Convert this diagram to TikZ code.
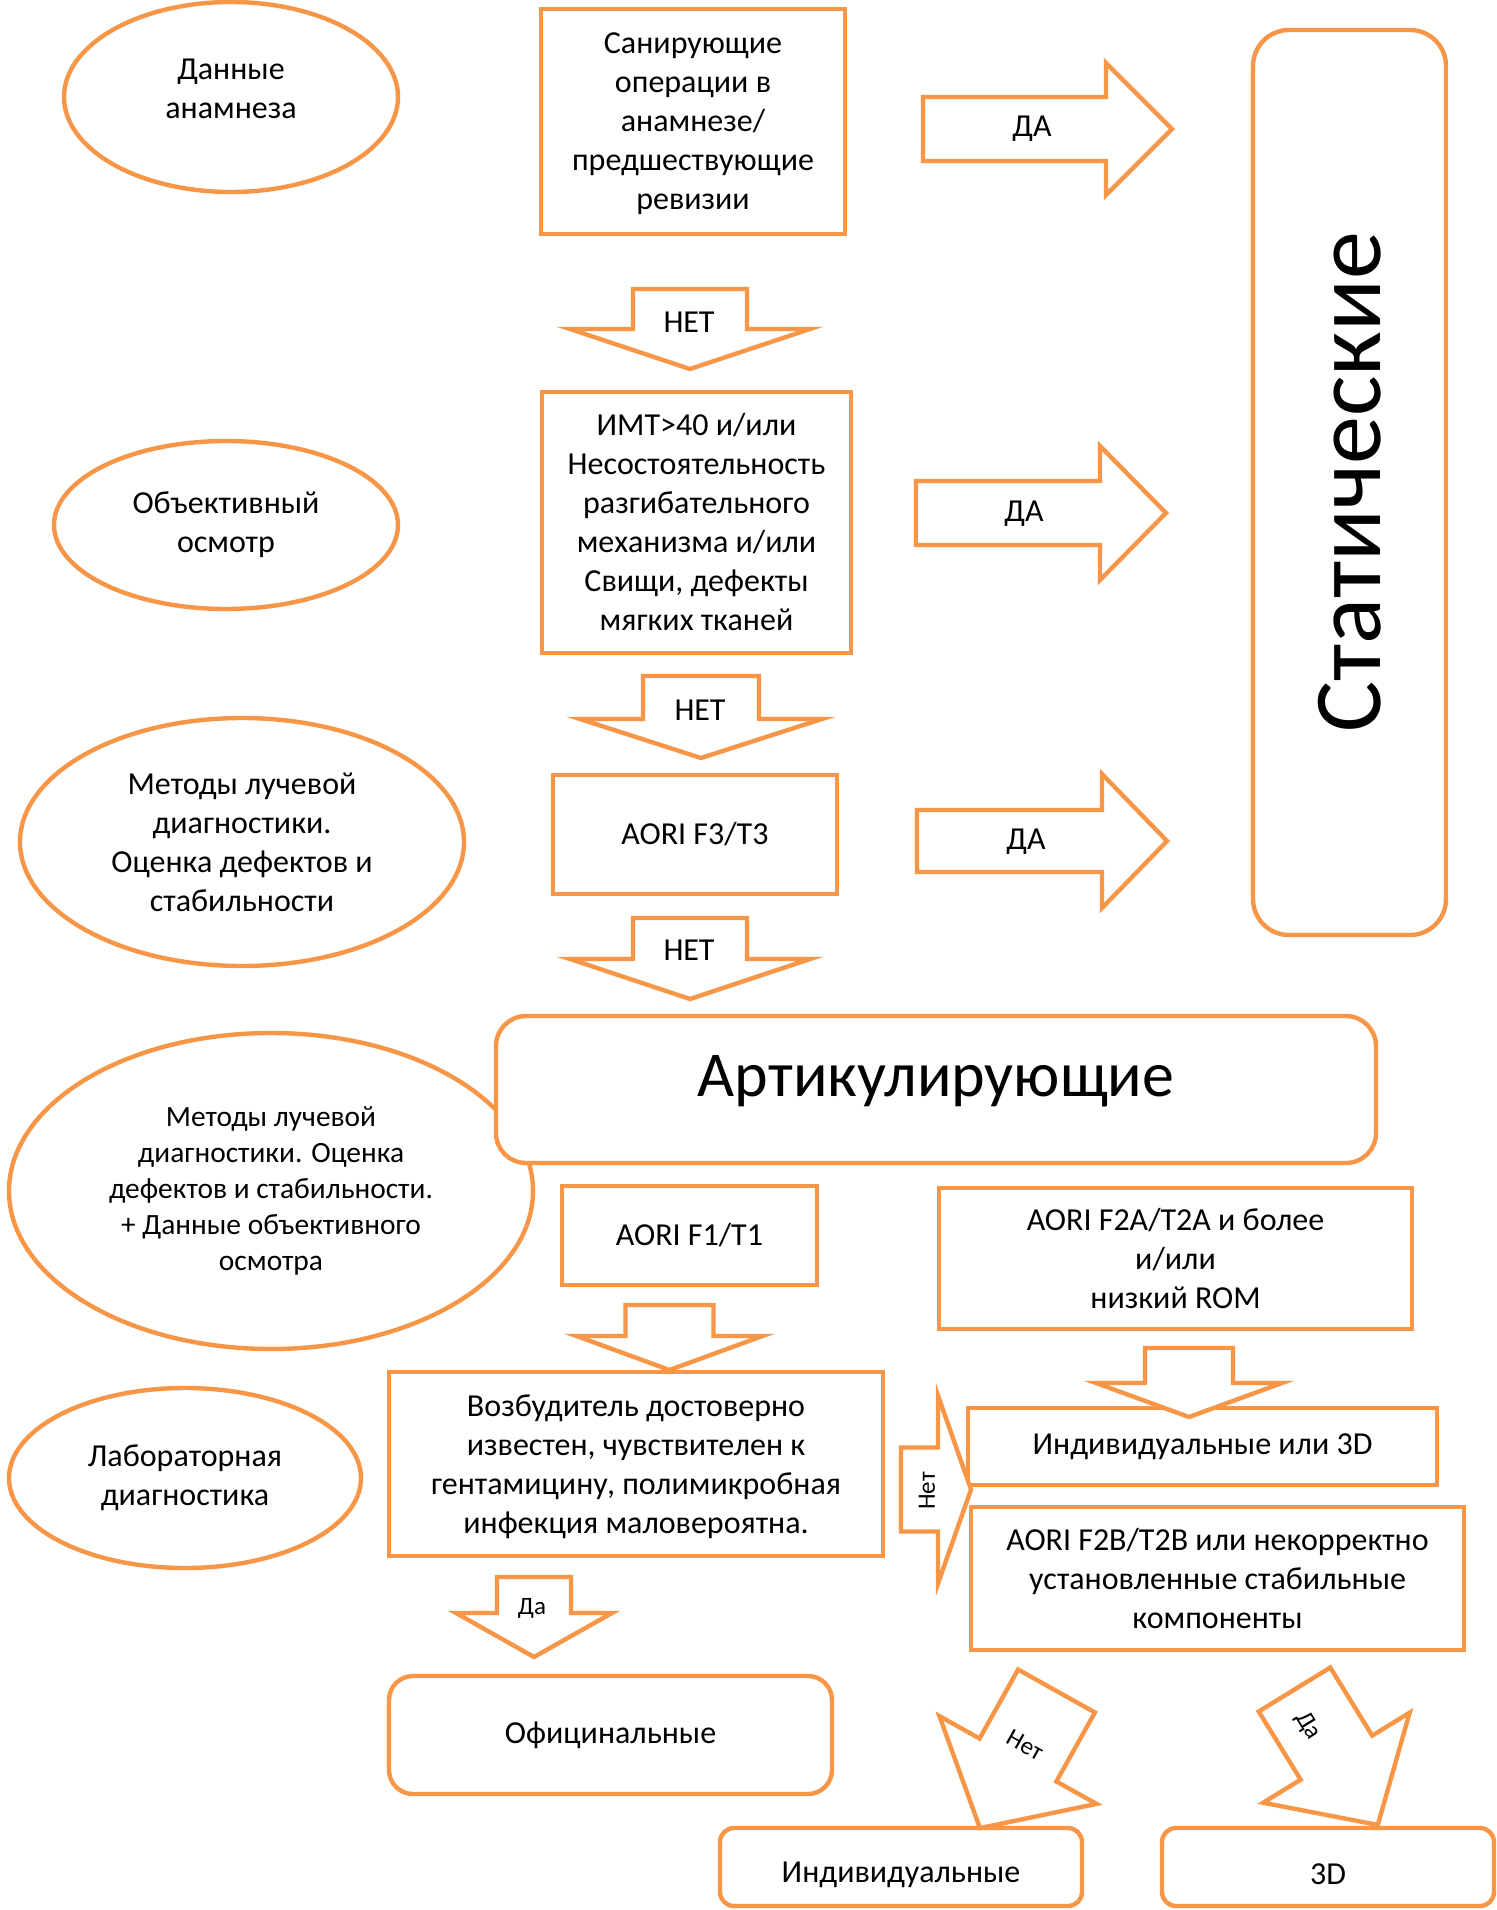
\documentclass[tikz,border=0pt]{standalone}
\usepackage{fontspec}
\setmainfont{Carlito}
\usetikzlibrary{shapes.geometric}
\definecolor{wordorange}{RGB}{247,150,70}
\newcommand\boxfont{\fontsize{16}{19.5}\selectfont}
\newcommand\ovalfont{\fontsize{14.7}{18}\selectfont}
\newcommand\smallfont{\fontsize{12.5}{15}\selectfont}

\begin{document}
\begin{tikzpicture}[x=0.5pt, y=-0.5pt]
	\tikzset{
		box/.style={draw=wordorange, line width=2.2pt, fill=white, align=center, font=\boxfont, inner sep=2pt}, % plain frame
		roundbox/.style={box, rounded corners=12pt}, % frame with round corners
		oval/.style={box, ellipse, inner sep=0pt},
		lbl/.style={font=\boxfont, inner sep=1pt}, % text on a fat arrow
		smalllbl/.style={font=\smallfont, inner sep=1pt},
		pics/fatarrow/.style n args={4}{code={ % length, half shaft, half head, head length
			\draw[draw=wordorange, line width=2.2pt, fill=white, line join=miter]
				(0,{-#2}) -- ({#1-#4},{-#2}) -- ({#1-#4},{-#3}) -- (#1,0)
				-- ({#1-#4},#3) -- ({#1-#4},#2) -- (0,#2) -- cycle;
		}},
	}
	\useasboundingbox[fill=white] (0,0) rectangle (1497,1910);
	\clip (0,0) rectangle (1497,1910);

	% left column
	\node[oval, minimum width=167pt, minimum height=95pt, text depth=8pt] (anamn) at (231,97) {Данные\\анамнеза};
	\node[oval, minimum width=172pt, minimum height=84pt] (osm) at (226,525) {Объективный\\осмотр};
	\node[oval, minimum width=222pt, minimum height=124pt] (luch) at (242,842) {Методы лучевой\\диагностики.\\Оценка дефектов и\\стабильности};
	\node[oval, minimum width=262pt, minimum height=158pt, font=\ovalfont] (luchosm) at (271,1191) {Методы лучевой\\диагностики. Оценка\\дефектов и стабильности.\\+ Данные объективного\\осмотра};
	\node[oval, minimum width=176pt, minimum height=90pt] (lab) at (185,1478) {Лабораторная\\диагностика};

	% questions
	\node[box, minimum width=152pt, minimum height=112.5pt, text depth=0pt] (san) at (693,121.5) {Санирующие\\операции в\\анамнезе/\\предшествующие\\ревизии};
	\node[box, minimum width=154.5pt, minimum height=130.5pt] (imt) at (696.5,522.5) {ИМТ>40 и/или\\Несостоятельность\\разгибательного\\механизма и/или\\Свищи, дефекты\\мягких тканей};
	\node[box, minimum width=142pt, minimum height=59.5pt] (f3) at (695,834.5) {AORI F3/T3};
	\node[roundbox, rounded corners=18pt, rotate=90, minimum width=452.5pt, minimum height=96.5pt, font=\fontsize{48}{56}\selectfont] (stat) at (1349.5,482.5) {Статические};
	\node[roundbox, rounded corners=15pt, minimum width=440pt, minimum height=73.5pt, text height=24pt, text depth=17.5pt, font=\fontsize{32}{38}\selectfont] (art) at (936,1089.5) {Артикулирующие};
	\node[box, minimum width=127.5pt, minimum height=49.5pt] (f1) at (689.5,1235.5) {AORI F1/T1};
	\node[box, minimum width=236.5pt, minimum height=70.5pt] (f2a) at (1175.5,1258.5) {AORI F2A/T2A и более\\и/или\\низкий ROM};
	\node[box, minimum width=247pt, minimum height=92pt, text depth=0pt] (vozb) at (636,1464) {Возбудитель достоверно\\известен, чувствителен к\\гентамицину, полимикробная\\инфекция маловероятна.};
	\node[box, minimum width=234.5pt, minimum height=38.5pt] (ind3d) at (1202.5,1446.5) {Индивидуальные или 3D};
	\node[box, minimum width=246.5pt, minimum height=71.5pt] (f2b) at (1217.5,1578.5) {AORI F2B/T2B или некорректно\\установленные стабильные\\компоненты};
	\node[roundbox, minimum width=221.5pt, minimum height=59pt] (ofic) at (610.5,1735) {Официнальные};
	\node[roundbox, rounded corners=7pt, minimum width=181pt, minimum height=39pt, text height=18pt] (indiv) at (901,1867) {Индивидуальные};
	\node[roundbox, rounded corners=7pt, minimum width=166pt, minimum height=39pt, text height=18pt] (tri) at (1328,1867) {3D};

	% fat arrows
	\pic at (923,129) {fatarrow={249}{32}{66}{66}};
	\pic at (916,513) {fatarrow={250}{32}{67}{66}};
	\pic at (917,841) {fatarrow={250}{31}{67}{65}};
	\pic[rotate=-90] at (690,289) {fatarrow={80}{57}{120}{40}};
	\pic[rotate=-90] at (701,676) {fatarrow={82}{58}{121}{39}};
	\pic[rotate=-90] at (690,918) {fatarrow={81}{57}{120}{40}};
	\pic[rotate=-90] at (669.5,1305) {fatarrow={65}{44}{93}{34}};
	\pic[rotate=-90] at (1189,1348) {fatarrow={69}{44}{93}{34}};
	\pic[rotate=-90] at (534,1577) {fatarrow={80}{37}{78}{44}};
	\pic at (901,1489.5) {fatarrow={70}{42}{94}{33}};
	\pic[rotate=-119.2] at (1056.5,1691) {fatarrow={157}{44}{90}{78}};
	\pic[rotate=-58.4] at (1294.5,1689.5) {fatarrow={159}{42}{86}{79}};

	% arrow texts
	\node[lbl] (da1) at (1032,129) {ДА};
	\node[lbl] (da2) at (1024,514) {ДА};
	\node[lbl] (da3) at (1026,842) {ДА};
	\node[lbl] (net1) at (689,322) {НЕТ};
	\node[lbl] (net2) at (700,710) {НЕТ};
	\node[lbl] (net3) at (689,950) {НЕТ};
	\node[smalllbl] (da4) at (532,1608) {Да};
	\node[smalllbl, rotate=90] (net4) at (927,1491) {Нет};
	\node[smalllbl, rotate=-29.2] (net5) at (1025,1745) {Нет};
	\node[smalllbl, rotate=-58.4] (da5) at (1308,1726) {Да};
\end{tikzpicture}
\end{document}
